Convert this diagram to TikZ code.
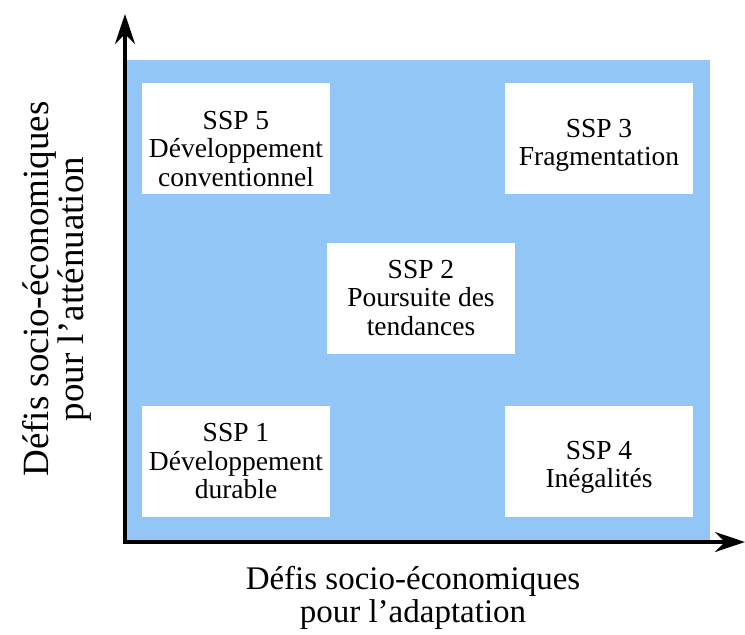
\documentclass[tikz,border=0pt]{standalone}
\usepackage{fontspec}
\setmainfont{Liberation Serif}
\usepackage{tikz}
\usetikzlibrary{positioning,arrows.meta}
\definecolor{DEFINE_BG_COLOR}{RGB}{146,198,247}
\newcommand{\boxpad}[1]{\rule{0pt}{#1}}
\tikzstyle{BG_COLOR}=[fill=DEFINE_BG_COLOR]
\tikzstyle{layer} = [rectangle, inner sep=0pt]
\tikzstyle{ssp_box} = [layer, fill=white, minimum width=188pt, minimum height=111pt, align=center, font=\fontsize{27.5}{28.5}\selectfont]
\tikzstyle{BG_LAYER} = [layer, BG_COLOR, minimum width=585pt, minimum height=482pt]
\tikzstyle{axis} = [line width=4pt, -{Stealth[length=30pt,width=20pt]}]
\tikzstyle{axis_label} = [align=center]

\begin{document}
\begin{tikzpicture}[x=1pt, y=-1pt]
      \useasboundingbox (0,0) rectangle (745,635);

      %%%%%%%%%%%%%%%%%%%%%%%%%%%%%%%%%%%%%%%%%%%%%%%%%
      % BACKGROUND
      %%%%%%%%%%%%%%%%%%%%%%%%%%%%%%%%%%%%%%%%%%%%%%%%%
      \node[BG_LAYER] (BG) at (417.5,301) {};

      %%%%%%%%%%%%%%%%%%%%%%%%%%%%%%%%%%%%%%%%%%%%%%%%%
      % SCENARIOS
      %%%%%%%%%%%%%%%%%%%%%%%%%%%%%%%%%%%%%%%%%%%%%%%%%
      \node[ssp_box] (SSP5) at (236,138) {\boxpad{40pt}SSP 5\\Développement\\conventionnel};
      \node[ssp_box] (SSP3) at (599,138) {\boxpad{32.5pt}SSP 3\\Fragmentation};
      \node[ssp_box] (SSP2) at (421,298) {SSP 2\\Poursuite des\\tendances};
      \node[ssp_box] (SSP1) at (236,461.5) {SSP 1\\Développement\\durable};
      \node[ssp_box] (SSP4) at (599,461) {\boxpad{30.5pt}SSP 4\\Inégalités};

      %%%%%%%%%%%%%%%%%%%%%%%%%%%%%%%%%%%%%%%%%%%%%%%%%
      % AXES AND LABELS
      %%%%%%%%%%%%%%%%%%%%%%%%%%%%%%%%%%%%%%%%%%%%%%%%%
      \coordinate (O)    at (125,542);
      \coordinate (YTIP) at (125,14);
      \coordinate (XTIP) at (745,542);
      \draw[axis] ([yshift=2pt]O) -- (YTIP);
      \draw[axis] ([xshift=-2pt]O) -- (XTIP);

      \node[axis_label, font=\fontsize{33}{33}\selectfont] (XL) at (413,598) {Défis socio-économiques\\pour l’adaptation};
      \node[axis_label, font=\fontsize{37}{35}\selectfont, rotate=90] (YL) at (57,289) {Défis socio-économiques\\pour l’atténuation};

\end{tikzpicture}
\end{document}
